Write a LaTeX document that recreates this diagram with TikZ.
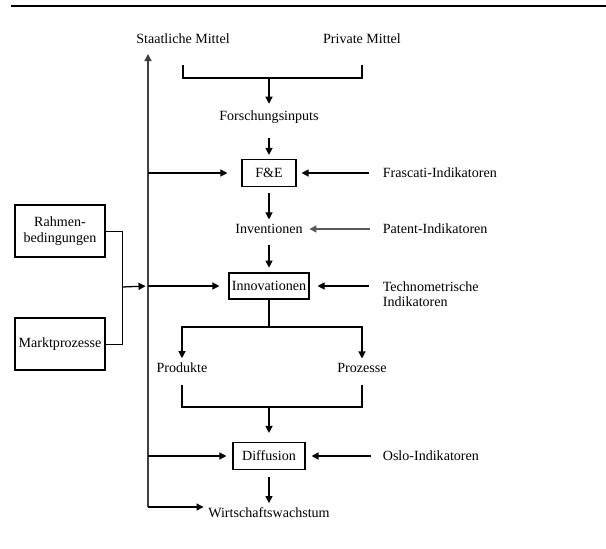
\documentclass[tikz,border=0pt]{standalone}
\usepackage{fontspec}
\setmainfont{Liberation Serif}
\usetikzlibrary{arrows.meta}
\begin{document}
\begin{tikzpicture}[>={Triangle[length=5pt,width=5pt]},x=0.25mm,y=-0.25mm,
	font=\fontsize{10}{12}\selectfont,line width=0.9pt,
	box/.style={draw,line width=0.8pt,inner sep=0pt},
	lab/.style={inner sep=3pt},
	ind/.style={inner sep=3pt,anchor=west,align=left}]
		\useasboundingbox (0,0) rectangle (606,548);
		\draw[line width=0.8pt](11,6)--(606,6);
		\node[lab] (sm) at (183,39) {Staatliche Mittel};
		\node[lab] (pm) at (362,39) {Private Mittel};
		\node[lab] (fi) at (269,117) {Forschungsinputs};
		\node[box,minimum width=13.5mm,minimum height=6.75mm] (fe) at (269,173) {F\&E};
		\node[lab] (inv) at (269,229) {Inventionen};
		\node[box,minimum width=20mm,minimum height=6.5mm] (inno) at (269,286) {Innovationen};
		\node[lab] (prod) at (182,368) {Produkte};
		\node[lab] (proz) at (362,368) {Prozesse};
		\node[box,minimum width=18mm,minimum height=6.75mm] (dif) at (269,456) {Diffusion};
		\node[lab] (ww) at (269,513) {Wirtschaftswachstum};
		\node[box,minimum width=22.5mm,minimum height=13mm,align=center] (rb) at (60,231) {Rahmen-\\[-1pt]bedingungen};
		\node[box,minimum width=22.5mm,minimum height=13mm] (mp) at (60,344) {Marktprozesse};
		\node[ind] (fra) at (378,173) {Frascati-Indikatoren};
		\node[ind] (pat) at (378,229) {Patent-Indikatoren};
		\node[ind] (tec) at (378,294) {Technometrische\\[-1pt]Indikatoren};
		\node[ind] (oslo) at (378,456) {Oslo-Indikatoren};
		\coordinate (j1) at (269,78);
		\coordinate (j2) at (269,327);
		\coordinate (j3) at (269,407);
		\coordinate (j4) at (122,287);
		\coordinate (spb) at (148,507);
		\coordinate (spt) at (148,54);
		% Mittel -> Diffusion
		\draw[shorten <=4mm,shorten >=4mm](sm.south) |- (j1) -| (pm.south);
		\draw[->,shorten >=0.5mm](j1)--(fi);
		\draw[->,shorten <=2.5mm,shorten >=1mm](fi)--(fe);
		\draw[->,shorten <=1.5mm](fe)--(inv);
		\draw[->,shorten <=1.5mm,shorten >=1.2mm](inv)--(inno);
		\draw(inno)--(j2);
		\draw[->](j2) -| (prod);
		\draw[->](j2) -| (proz);
		\draw[shorten <=1.75mm,shorten >=1.75mm](prod.south) |- (j3) -| (proz.south);
		\draw[->,shorten >=2.25mm](j3)--(dif);
		\draw[->,shorten <=1.75mm](dif)--(ww);
		% linke Seite
		\draw[->,color=black!75](spb)--(spt);
		\draw[->,shorten >=3.5mm](spb |- fe)--(fe);
		\draw[->,shorten >=2.25mm](spb |- inno)--(inno);
		\draw[->,shorten >=1.5mm](spb |- dif)--(dif);
		\draw[->](spb)--(spb -| ww.west);
		\draw[line width=0.7pt](rb.east) -| (j4);
		\draw[line width=0.7pt](mp.east) -| (j4);
		\draw[->,shorten >=0.6mm](j4)--(spb |- inno);
		% Indikatoren
		\draw[->,shorten <=2.25mm,shorten >=1.25mm](fra)--(fe);
		\draw[->,color=black!65,shorten <=2mm,shorten >=0.5mm](pat)--(inv);
		\draw[->,shorten <=2.25mm,shorten >=2mm](tec.west |- inno)--(inno);
		\draw[->,shorten <=1.75mm,shorten >=1.5mm](oslo)--(dif);
	\end{tikzpicture}
\end{document}
